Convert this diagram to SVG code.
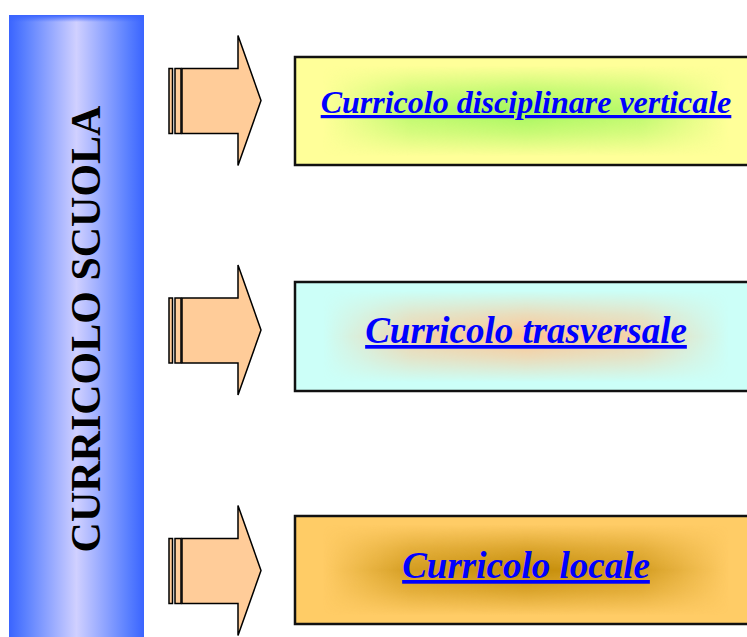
<svg xmlns="http://www.w3.org/2000/svg" width="747" height="637" viewBox="0 0 747 637">
<defs>
<linearGradient id="barG" x1="0" y1="0" x2="1" y2="0">
<stop offset="0" stop-color="#3a64ff"/>
<stop offset="0.12" stop-color="#5a80ff"/>
<stop offset="0.5" stop-color="#d0d0ff"/>
<stop offset="0.88" stop-color="#5a80ff"/>
<stop offset="1" stop-color="#3a64ff"/>
</linearGradient>
<linearGradient id="barTop" x1="0" y1="0" x2="0" y2="1">
<stop offset="0" stop-color="#3a64ff"/>
<stop offset="1" stop-color="#3a64ff" stop-opacity="0"/>
</linearGradient>
<linearGradient id="rampH" x1="0" y1="0" x2="1" y2="0">
<stop offset="0" stop-color="#000"/>
<stop offset="0.06" stop-color="#000"/>
<stop offset="0.25" stop-color="#bbb"/>
<stop offset="0.5" stop-color="#fff"/>
<stop offset="0.75" stop-color="#bbb"/>
<stop offset="0.94" stop-color="#000"/>
<stop offset="1" stop-color="#000"/>
</linearGradient>
<linearGradient id="rampV" x1="0" y1="0" x2="0" y2="1">
<stop offset="0" stop-color="#000"/>
<stop offset="0.08" stop-color="#000"/>
<stop offset="0.3" stop-color="#999"/>
<stop offset="0.5" stop-color="#fff"/>
<stop offset="0.7" stop-color="#999"/>
<stop offset="0.92" stop-color="#000"/>
<stop offset="1" stop-color="#000"/>
</linearGradient>
<mask id="mH" maskContentUnits="objectBoundingBox"><rect x="0" y="0" width="1" height="1" fill="url(#rampH)"/></mask>
<mask id="mV" maskContentUnits="objectBoundingBox"><rect x="0" y="0" width="1" height="1" fill="url(#rampV)"/></mask>
<g id="arrow">
<rect x="169" y="-32" width="3.5" height="65" class="ar"/>
<rect x="175" y="-32" width="6" height="65" class="ar"/>
<path d="M182,-32 H238 V-65 L261,0 L238,65 V33 H182 Z" class="ar"/>
</g>
</defs>
<style>
.ar{fill:#ffcc99;stroke:#000;stroke-width:1.5;stroke-linejoin:miter}
.box{fill:none;stroke:#111;stroke-width:2.5}
.lbl{font-family:"Liberation Serif","Times New Roman",serif;font-weight:bold;font-style:italic;fill:#0000ff;text-anchor:middle;text-decoration:underline}
.side{font-family:"Liberation Serif","Times New Roman",serif;font-weight:bold;font-size:42px;fill:#000;text-anchor:middle}
</style>
<rect width="747" height="637" fill="#fff"/>
<g id="curricolo-scuola">
<rect x="9" y="15" width="135" height="622" fill="url(#barG)"/>
<rect x="9" y="15" width="135" height="7" fill="url(#barTop)"/>
<text class="side" transform="translate(100 329) rotate(-90)">CURRICOLO SCUOLA</text>
</g>
<g id="connectors">
<use href="#arrow" transform="translate(0 100.5)"/>
<use href="#arrow" transform="translate(0 330)"/>
<use href="#arrow" transform="translate(0 570.5)"/>
</g>
<g id="curricolo-disciplinare">
<rect x="295" y="57" width="462" height="108" fill="#ffff99"/>
<g mask="url(#mV)"><rect x="295" y="57" width="462" height="108" fill="#a2f75c" mask="url(#mH)"/></g>
<rect x="295" y="57" width="462" height="108" class="box"/>
<text class="lbl" x="526" y="113" font-size="32">Curricolo disciplinare verticale</text>
</g>
<g id="curricolo-trasversale">
<rect x="295" y="282" width="462" height="109" fill="#ccfff8"/>
<g mask="url(#mV)"><rect x="295" y="282" width="462" height="109" fill="#ffc490" mask="url(#mH)"/></g>
<rect x="295" y="282" width="462" height="109" class="box"/>
<text class="lbl" x="526" y="343" font-size="37">Curricolo trasversale</text>
</g>
<g id="curricolo-locale">
<rect x="295" y="516" width="462" height="108" fill="#ffcc66"/>
<g mask="url(#mV)"><rect x="295" y="516" width="462" height="108" fill="#c48c08" mask="url(#mH)"/></g>
<rect x="295" y="516" width="462" height="108" class="box"/>
<text class="lbl" x="526" y="578" font-size="37">Curricolo locale</text>
</g>
</svg>
